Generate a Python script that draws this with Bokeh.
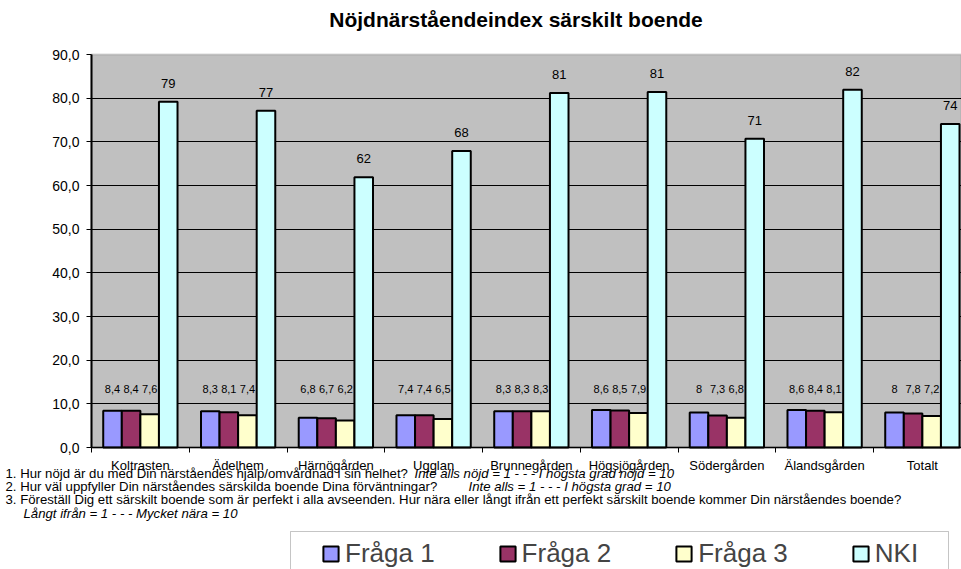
from bokeh.plotting import figure
from bokeh.models import (ColumnDataSource, FixedTicker, Range1d, Label, Legend, LegendItem,
                          LinearAxis, BoxAnnotation)
from bokeh.core.properties import value
from bokeh.embed import file_html
from bokeh.resources import INLINE

# ---------------- data ----------------
categories = ["Koltrasten", "Ädelhem", "Härnögården", "Ugglan", "Brunnegården",
              "Högsjögården", "Södergården", "Älandsgården", "Totalt"]
fraga1 = [8.4, 8.3, 6.8, 7.4, 8.3, 8.6, 8.0, 8.6, 8.0]
fraga2 = [8.4, 8.1, 6.7, 7.4, 8.3, 8.5, 7.3, 8.4, 7.8]
fraga3 = [7.6, 7.4, 6.2, 6.5, 8.3, 7.9, 6.8, 8.1, 7.2]
nki = [79.2, 77.1, 61.9, 67.9, 81.2, 81.4, 70.7, 81.9, 74.1]
series_names = ["Fråga 1", "Fråga 2", "Fråga 3", "NKI"]
series_colors = ["#9999FF", "#993366", "#FFFFCC", "#CCFFFF"]
y_ticks = [0, 10, 20, 30, 40, 50, 60, 70, 80, 90]
y_tick_labels = ["0,0", "10,0", "20,0", "30,0", "40,0", "50,0", "60,0", "70,0", "80,0", "90,0"]
title_text = "Nöjdnärståendeindex särskilt boende"
note1 = "1. Hur nöjd är du med Din närståendes hjälp/omvårdnad i sin helhet?"
note1_it = "Inte alls nöjd = 1 - - - I högsta grad nöjd = 10"
note2 = "2. Hur väl uppfyller Din närståendes särskilda boende Dina förväntningar?"
note2_it = "Inte alls = 1 - - - I högsta grad = 10"
note3 = ("3. Föreställ Dig ett särskilt boende som är perfekt i alla avseenden. "
         "Hur nära eller långt ifrån ett perfekt särskilt boende kommer Din närståendes boende?")
note4_it = "Långt ifrån = 1 - - - Mycket nära = 10"

FONT_NAME = "Liberation Sans"
FONT = value(FONT_NAME)

# ---------------- geometry (canvas px) ----------------
W, H = 961, 569
PL, PT, PB = 91, 54, 447          # plot-area left / top / bottom
CAT_PX = 97.75                    # width of one category
Y_MAX = 90
PXY = (PB - PT) / Y_MAX
x0 = -PL / CAT_PX
x1 = x0 + W / CAT_PX
y0 = -(H - PB) / PXY
y1 = y0 + H / PXY


def dxp(px):
    return x0 + px / CAT_PX


def dyp(py):
    return y1 - py / PXY


def fmt(v):
    s = f"{v:.1f}".replace(".", ",")
    return s[:-2] if s.endswith(",0") else s


p = figure(width=W, height=H, output_backend="svg", toolbar_location=None,
           x_range=Range1d(x0, x1), y_range=Range1d(y0, y1),
           x_axis_location=None, y_axis_location=None,
           min_border=0)
p.background_fill_color = "white"
p.border_fill_color = "white"
p.outline_line_color = None

# grey plot area
p.add_layout(BoxAnnotation(left=0, right=x1, bottom=0, top=Y_MAX, fill_color="#C0C0C0",
                           fill_alpha=1, line_color="#808080", line_width=2, level="image"))

centers = [i + 0.5 for i in range(len(categories))]
offsets = [-0.285, -0.095, 0.095, 0.285]
BW = 0.19
all_series = [fraga1, fraga2, fraga3, nki]

renderers = []
for vals, off, col in zip(all_series, offsets, series_colors):
    src = ColumnDataSource(dict(x=[c + off for c in centers], top=vals))
    r = p.vbar(x="x", top="top", width=BW, bottom=0, source=src,
               fill_color=col, line_color="black", line_width=2)
    renderers.append(r)

# small value labels
for vals, off in zip(all_series[:3], offsets[:3]):
    src = ColumnDataSource(dict(x=[c + off for c in centers], y=[13.5] * len(vals),
                                t=[fmt(v) for v in vals]))
    p.text(x="x", y="y", text="t", source=src, text_align="center",
           text_baseline="middle", text_font=FONT, text_font_size="11px",
           text_color="black")

# NKI labels
src = ColumnDataSource(dict(x=[c + offsets[3] for c in centers], y=[v + 4.17 for v in nki],
                            t=[str(int(round(v))) for v in nki]))
p.text(x="x", y="y", text="t", source=src, text_align="center", text_baseline="middle",
       text_font=FONT, text_font_size="13px", text_color="black")

# axes, fixed at the plot-area edges
xaxis = LinearAxis(fixed_location=0, bounds=(0, x1))
xaxis.ticker = FixedTicker(ticks=centers, minor_ticks=list(range(len(categories) + 1)))
xaxis.major_label_overrides = {c: n for c, n in zip(centers, categories)}
xaxis.major_tick_line_color = None
xaxis.major_tick_out = 5
xaxis.major_tick_in = 0
xaxis.major_label_standoff = 5
xaxis.minor_tick_line_color = "black"
xaxis.minor_tick_out = 5
xaxis.minor_tick_in = 0
xaxis.axis_line_color = "black"
xaxis.axis_line_width = 1.5
xaxis.major_label_text_font = FONT_NAME
xaxis.major_label_text_font_size = "13px"
xaxis.major_label_text_color = "black"
p.add_layout(xaxis, "below")

yaxis = LinearAxis(fixed_location=0, bounds=(0, Y_MAX))
yaxis.ticker = FixedTicker(ticks=y_ticks)
yaxis.major_label_overrides = {t: l for t, l in zip(y_ticks, y_tick_labels)}
yaxis.major_tick_out = 5
yaxis.major_tick_in = 0
yaxis.minor_tick_line_color = None
yaxis.major_tick_line_color = "black"
yaxis.axis_line_color = "black"
yaxis.axis_line_width = 2
yaxis.major_label_standoff = 7
yaxis.major_label_text_font = FONT_NAME
yaxis.major_label_text_font_size = "14px"
yaxis.major_label_text_color = "black"
p.add_layout(yaxis, "left")

p.xgrid.visible = False
p.ygrid.ticker = FixedTicker(ticks=y_ticks[1:-1])
p.ygrid.grid_line_color = "black"
p.ygrid.grid_line_width = 1
try:
    p.ygrid.cross_bounds = (0, x1)
except Exception:
    pass


def sy(py):
    return H - py


# title and footnotes
p.add_layout(Label(x=515.5, y=sy(19), x_units="screen", y_units="screen",
                   text=title_text, text_align="center",
                   text_baseline="alphabetic", text_font=FONT_NAME, text_font_style="bold",
                   text_font_size="21px", text_color="black"))
notes = [
    (5, 473, note1, "normal"), (414, 473, note1_it, "italic"),
    (5, 486, note2, "normal"), (468, 486, note2_it, "italic"),
    (5, 499, note3, "normal"), (23, 513, note4_it, "italic"),
]
for px_, py_, t, st in notes:
    p.add_layout(Label(x=px_, y=sy(py_), x_units="screen", y_units="screen",
                       text=t, text_align="left",
                       text_baseline="alphabetic", text_font=FONT_NAME, text_font_style=st,
                       text_font_size="13.2px", text_color="black"))

# legend frame (runs off the bottom edge like the reference)
p.add_layout(BoxAnnotation(left=dxp(290), right=dxp(948), top=dyp(531), bottom=dyp(590),
                           fill_color="white", fill_alpha=1, line_color="#404040",
                           line_width=1))

# legend
legend = Legend(items=[LegendItem(label=n, renderers=[r]) for n, r in zip(series_names, renderers)],
                orientation="horizontal", location=(321, 0))
legend.label_text_font = FONT_NAME
legend.label_text_font_size = "26px"
legend.glyph_width = 19
legend.glyph_height = 19
legend.label_standoff = 5
legend.spacing = 63
legend.padding = 8
legend.margin = 0
legend.border_line_color = None
legend.background_fill_alpha = 0
p.add_layout(legend)

open("out.html", "w").write(file_html(p, INLINE))
